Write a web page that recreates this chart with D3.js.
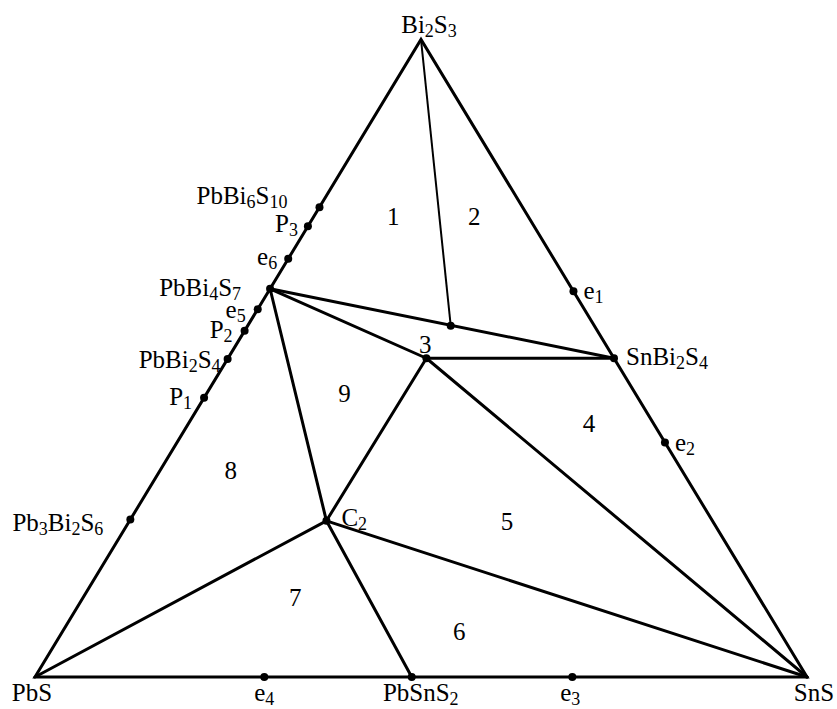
<!DOCTYPE html>
<html>
<head>
<meta charset="utf-8">
<script src="https://cdn.jsdelivr.net/npm/d3@7"></script>
<style>
  body { margin: 0; background: #fff; }
  svg text { font-family: "Liberation Serif", "Times New Roman", serif; font-size: 25px; fill: #000; }
</style>
</head>
<body>
<div id="chart"></div>
<script>
// compositions as mole fractions of SnS and Bi2S3 (PbS = 1 - SnS - Bi2S3)
const pointIds = ['PbS', 'SnS', 'Bi2S3',
  'Pb3Bi2S6', 'P1', 'PbBi2S4', 'P2', 'e5', 'PbBi4S7', 'e6', 'P3', 'PbBi6S10',
  'e1', 'SnBi2S4', 'e2',
  'e4', 'PbSnS2', 'e3',
  'K', 'M', 'C2'];
const pointSnS = [0, 1, 0,
  0, 0, 0, 0, 0, 0, 0, 0, 0,
  0.395, 0.5, 0.632,
  0.297, 0.488, 0.696,
  0.263, 0.257, 0.255];
const pointBi2S3 = [0, 0, 1,
  0.247, 0.438, 0.499, 0.543, 0.577, 0.609, 0.656, 0.707, 0.737,
  0.605, 0.5, 0.368,
  0, 0, 0,
  0.551, 0.5, 0.245];

// points drawn without a dot
const vertexIds = ['PbS', 'SnS', 'Bi2S3'];

const thickLines = [
  ['PbBi4S7', 'SnBi2S4'], ['PbBi4S7', 'M'], ['M', 'SnBi2S4'], ['M', 'SnS'],
  ['M', 'C2'], ['PbBi4S7', 'C2'], ['C2', 'PbS'], ['C2', 'PbSnS2'], ['C2', 'SnS']
];
const thinLines = [['Bi2S3', 'K']];

const regionLabels = ['1', '2', '3', '4', '5', '6', '7', '8', '9'];
const regionSnS = [0.103, 0.208, 0.245, 0.519, 0.490, 0.514, 0.275, 0.092, 0.179];
const regionBi2S3 = [0.722, 0.722, 0.521, 0.397, 0.243, 0.071, 0.124, 0.323, 0.444];

const width = 837;
const height = 709;

let x = d3.scaleLinear().domain([0, 1]).range([35, 807]);
let y = d3.scaleLinear().domain([0, 1]).range([677, 39.5]);

function project (sns, bi) {
  return [x(sns + bi / 2), y(bi)];
}

let points = {};
pointIds.forEach(function (id, i) {
  points[id] = project(pointSnS[i], pointBi2S3[i]);
});

// label placement: anchor, dx, dy from the point
let labelPlacement = {
  'Bi2S3': ['middle', 8, -7],
  'PbS': ['middle', -3, 24],
  'SnS': ['middle', 7, 24],
  'Pb3Bi2S6': ['end', -27, 11],
  'P1': ['end', -12, 7],
  'PbBi2S4': ['end', -7, 9],
  'P2': ['end', -12, 7],
  'e5': ['end', -12, 9],
  'PbBi4S7': ['end', -29, 7],
  'e6': ['end', -11, 6],
  'P3': ['end', -10, 6],
  'PbBi6S10': ['end', -32, -3],
  'e1': ['start', 10, 8],
  'SnBi2S4': ['start', 12, 7],
  'e2': ['start', 10, 9],
  'e4': ['middle', 0, 24],
  'PbSnS2': ['middle', 9, 24],
  'e3': ['middle', -2, 24],
  'C2': ['start', 15, 5]
};

function appendFormula (text, label) {
  let parts = label.split(/(\d+)/).filter(function (p) { return p !== ''; });
  let shift = 0;
  parts.forEach(function (p) {
    let isSub = /^\d+$/.test(p);
    let target = isSub ? 4 : 0;
    text.append('tspan')
      .attr('dy', target - shift)
      .style('font-size', isSub ? '18px' : null)
      .text(p);
    shift = target;
  });
}

let svg = d3.select('#chart')
  .append('svg')
  .attr('width', width)
  .attr('height', height);

let line = d3.line();

svg.append('path')
  .attr('d', line([points['PbS'], points['SnS'], points['Bi2S3']]) + 'Z')
  .attr('fill', 'none')
  .attr('stroke', '#000')
  .attr('stroke-width', 3)
  .attr('stroke-linejoin', 'miter');

svg.selectAll('.tie')
  .data(thickLines)
  .enter()
  .append('path')
  .attr('class', 'tie')
  .attr('d', function (d) { return line([points[d[0]], points[d[1]]]); })
  .attr('stroke', '#000')
  .attr('stroke-width', 3)
  .attr('stroke-linecap', 'round');

svg.selectAll('.thin')
  .data(thinLines)
  .enter()
  .append('path')
  .attr('class', 'thin')
  .attr('d', function (d) { return line([points[d[0]], points[d[1]]]); })
  .attr('stroke', '#000')
  .attr('stroke-width', 2);

svg.selectAll('.dot')
  .data(pointIds.filter(function (id) { return vertexIds.indexOf(id) < 0; }))
  .enter()
  .append('circle')
  .attr('class', 'dot')
  .attr('cx', function (d) { return points[d][0]; })
  .attr('cy', function (d) { return points[d][1]; })
  .attr('r', 4)
  .attr('fill', '#000');

Object.keys(labelPlacement).forEach(function (id) {
  let p = labelPlacement[id];
  let text = svg.append('text')
    .attr('x', points[id][0] + p[1])
    .attr('y', points[id][1] + p[2])
    .style('text-anchor', p[0]);
  appendFormula(text, id);
});

svg.selectAll('.region')
  .data(regionLabels)
  .enter()
  .append('text')
  .attr('class', 'region')
  .attr('x', function (d, i) { return project(regionSnS[i], regionBi2S3[i])[0]; })
  .attr('y', function (d, i) { return project(regionSnS[i], regionBi2S3[i])[1]; })
  .attr('dy', '0.33em')
  .style('text-anchor', 'middle')
  .text(function (d) { return d; });
</script>
</body>
</html>
